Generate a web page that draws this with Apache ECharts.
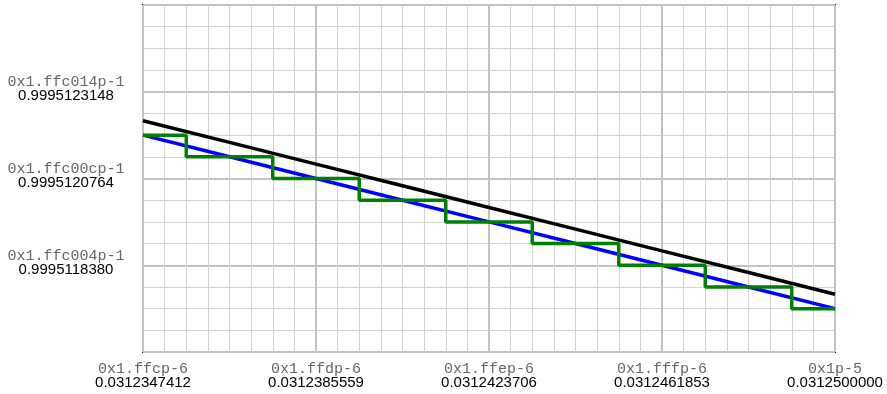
<!DOCTYPE html>
<html>
<head>
<meta charset="utf-8">
<script src="https://cdn.jsdelivr.net/npm/echarts@6/dist/echarts.min.js"></script>
<style>html,body{margin:0;padding:0;background:#fff;}#c{width:887px;height:394px;}</style>
</head>
<body>
<div id="c"></div>
<script>
// x in units of 2^-21 above 0x1.ffcp-6 ; y in units of 2^-25 above 0x1.ffbffcp-1
var xTicks = [0, 8, 16, 24, 32];
var xHexLabels = ['0x1.ffcp-6', '0x1.ffdp-6', '0x1.ffep-6', '0x1.fffp-6', '0x1p-5'];
var xDecLabels = ['0.0312347412', '0.0312385559', '0.0312423706', '0.0312461853', '0.0312500000'];
var yTicks = [0, 8, 16, 24, 32];
var yHexLabels = ['', '0x1.ffc004p-1', '0x1.ffc00cp-1', '0x1.ffc014p-1', ''];
var yDecLabels = ['', '0.9995118380', '0.9995120764', '0.9995123148', ''];

var xs = [0, 4, 8, 12, 16, 20, 24, 28, 32];
var exactValues = [21.33, 19.33, 17.33, 15.33, 13.33, 11.33, 9.33, 7.33, 5.33];
var approxValues = [20, 18, 16, 14, 12, 10, 8, 6, 4];
var roundedValues = [20, 18, 16, 14, 12, 10, 8, 6, 4];

function pairs(a, b) { return a.map(function (v, i) { return [v, b[i]]; }); }

var rich = {
  h: { fontFamily: '"Liberation Mono", monospace', fontSize: 15, color: '#666', lineHeight: 14 },
  d: { fontFamily: '"Liberation Sans", Arial, sans-serif', fontSize: 15, color: '#000', lineHeight: 14 }
};

var chart = echarts.init(document.getElementById('c'));
chart.setOption({
  animation: false,
  backgroundColor: '#fff',
  grid: { left: 143, right: 52, top: 5, bottom: 42, show: true, borderColor: '#111', borderWidth: 2, backgroundColor: 'transparent' },
  xAxis: {
    type: 'value', min: 0, max: 32, interval: 8,
    axisLine: { show: false }, axisTick: { show: false },
    splitLine: { show: true, lineStyle: { color: '#c2c2c2', width: 2 } },
    minorTick: { show: false, splitNumber: 8 },
    minorSplitLine: { show: true, lineStyle: { color: '#d2d2d2', width: 1 } },
    axisLabel: {
      showMinLabel: true, showMaxLabel: true, margin: 10,
      formatter: function (v) {
        var i = xTicks.indexOf(v);
        return '{h|' + xHexLabels[i] + '}\n{d|' + xDecLabels[i] + '}';
      },
      rich: rich
    }
  },
  yAxis: {
    type: 'value', min: 0, max: 32, interval: 8,
    axisLine: { show: false }, axisTick: { show: false },
    splitLine: { show: true, lineStyle: { color: '#c2c2c2', width: 2 } },
    minorTick: { show: false, splitNumber: 4 },
    minorSplitLine: { show: true, lineStyle: { color: '#d2d2d2', width: 1 } },
    axisLabel: {
      align: 'center', margin: 77, padding: [0, 0, 5, 0],
      formatter: function (v) {
        var i = yTicks.indexOf(v);
        if (!yHexLabels[i]) return '';
        return '{h|' + yHexLabels[i] + '}\n{d|' + yDecLabels[i] + '}';
      },
      rich: rich
    }
  },
  series: [
    { type: 'line', data: pairs(xs, approxValues), showSymbol: false, lineStyle: { color: '#0000ff', width: 3.5 }, z: 2 },
    { type: 'line', data: pairs(xs, roundedValues), step: 'middle', showSymbol: false, lineStyle: { color: '#008000', width: 3.5 }, z: 3 },
    { type: 'line', data: pairs(xs, exactValues), showSymbol: false, lineStyle: { color: '#000000', width: 3.5 }, z: 4 }
  ]
});
</script>
</body>
</html>
